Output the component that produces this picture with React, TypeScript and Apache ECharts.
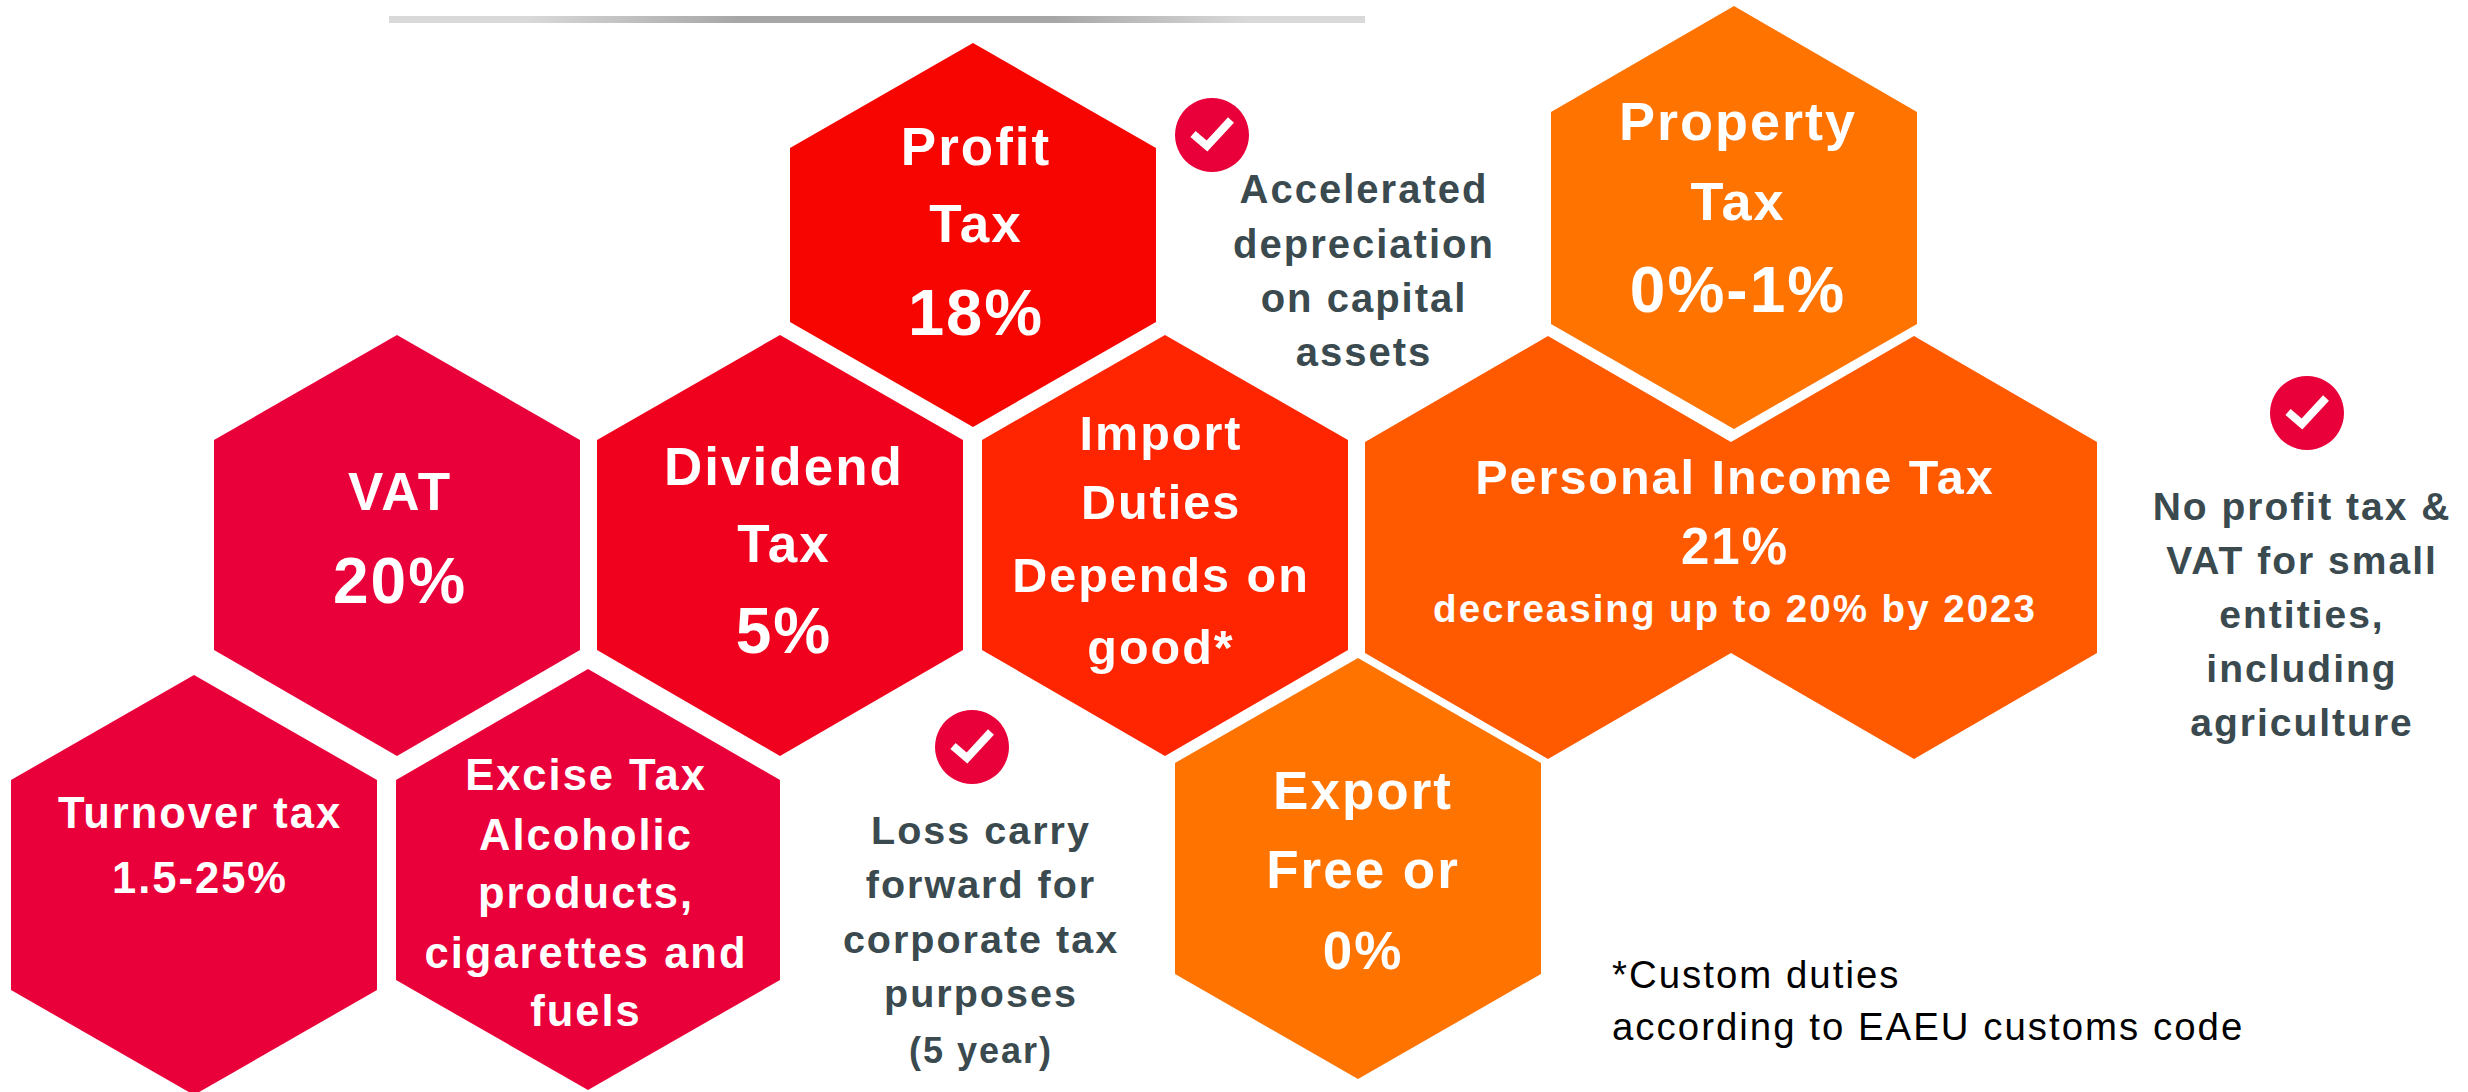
import React, { useEffect, useRef } from "react";
import * as echarts from "echarts";

// ---- content ----
const hexNames = ["Profit Tax", "Property Tax", "Personal Income Tax", "VAT", "Dividend Tax", "Import Duties", "Turnover tax", "Excise Tax", "Export"];
const profitLines = ["Profit", "Tax", "18%"];
const propertyLines = ["Property", "Tax", "0%-1%"];
const incomeLines = ["Personal Income Tax", "21%", "decreasing up to 20% by 2023"];
const vatLines = ["VAT", "20%"];
const dividendLines = ["Dividend", "Tax", "5%"];
const importLines = ["Import", "Duties", "Depends on", "good*"];
const turnoverLines = ["Turnover tax", "1.5-25%"];
const exciseLines = ["Excise Tax", "Alcoholic", "products,", "cigarettes and", "fuels"];
const exportLines = ["Export", "Free or", "0%"];
const depreciationNote = ["Accelerated", "depreciation", "on capital", "assets"];
const smallEntityNote = ["No profit tax &", "VAT for small", "entities,", "including", "agriculture"];
const lossNote = ["Loss carry", "forward for", "corporate tax", "purposes", "(5 year)"];
const footnote = ["*Custom duties", "according to EAEU customs code"];

// ---- layout (pixels of the 2468x1092 canvas) ----
const RED = "#E9003A";
const ORANGE = "#FF7300";
const hexLayout: any[] = [
  { cx: 973, top: 43, s1: 148, s2: 322, bottom: 427, hw: 183, cols: 1, color: "#F70500" },
  { cx: 1734, top: 6, s1: 112, s2: 324, bottom: 429, hw: 183, cols: 1, color: ORANGE },
  { cx: 1731, top: 336, s1: 442, s2: 653, bottom: 759, hw: 183, cols: 2, color: "#FF5A00" },
  { cx: 397, top: 335, s1: 440, s2: 650, bottom: 756, hw: 183, cols: 1, color: RED },
  { cx: 780, top: 335, s1: 440, s2: 650, bottom: 756, hw: 183, cols: 1, color: "#F0021F" },
  { cx: 1165, top: 335, s1: 440, s2: 650, bottom: 756, hw: 183, cols: 1, color: "#FF2500" },
  { cx: 194, top: 675, s1: 780, s2: 990, bottom: 1095, hw: 183, cols: 1, color: RED },
  { cx: 588, top: 669, s1: 780, s2: 980, bottom: 1090, hw: 192, cols: 1, color: RED },
  { cx: 1358, top: 658, s1: 763, s2: 974, bottom: 1079, hw: 183, cols: 1, color: ORANGE },
];

const WHITE = "#ffffff";
const DARK = "#3A4A4F";
const textBlocks: any[] = [
  { lines: profitLines, x: 976, ys: [146, 223, 312], sizes: [53, 53, 65], fill: WHITE },
  { lines: propertyLines, x: 1738, ys: [121, 201, 290], sizes: [54, 54, 64], fill: WHITE },
  { lines: incomeLines, x: 1735, ys: [477, 546, 608], sizes: [48.5, 51, 38.5], fill: WHITE },
  { lines: vatLines, x: 400, ys: [491, 581], sizes: [53, 64], fill: WHITE },
  { lines: dividendLines, x: 784, ys: [466, 543, 631], sizes: [53, 53, 64], fill: WHITE },
  { lines: importLines, x: 1161, ys: [433, 502, 575, 647], sizes: [48.5, 48.5, 48.5, 48.5], fill: WHITE },
  { lines: turnoverLines, x: 200, ys: [813, 878], sizes: [43.5, 43.5], fill: WHITE },
  { lines: exciseLines, x: 586, ys: [775, 835, 893, 953, 1011], sizes: [43.5, 43.5, 43.5, 43.5, 43.5], fill: WHITE },
  { lines: exportLines, x: 1363, ys: [790, 869, 950], sizes: [53, 53, 53], fill: WHITE },
  { lines: depreciationNote, x: 1364, ys: [189, 244, 298, 352], sizes: [40, 40, 40, 40], fill: DARK },
  { lines: smallEntityNote, x: 2302, ys: [506, 560, 614, 668, 722], sizes: [39, 39, 39, 39, 39], fill: DARK },
  { lines: lossNote, x: 981, ys: [830, 884, 939, 993, 1050], sizes: [39.5, 39.5, 39.5, 39.5, 36], fill: DARK },
];
const checks = [
  { x: 1212, y: 135 },
  { x: 2307, y: 413 },
  { x: 972, y: 747 },
];

const FONT = '"Liberation Sans", Arial, sans-serif';

function hexPoints(api: any, h: any) {
  const c = (x: number, y: number) => api.coord([x, y]);
  const left = h.cx - h.hw * h.cols;
  const pts: number[][] = [c(left, h.s1)];
  for (let i = 0; i < h.cols; i++) {
    const peak = left + h.hw * (2 * i + 1);
    const next = left + h.hw * (2 * i + 2);
    pts.push(c(peak, h.top), c(next, h.s1));
  }
  const right = left + h.hw * 2 * h.cols;
  pts.push(c(right, h.s2));
  for (let i = h.cols - 1; i >= 0; i--) {
    const peak = left + h.hw * (2 * i + 1);
    const prev = left + h.hw * 2 * i;
    pts.push(c(peak, h.bottom), c(prev, h.s2));
  }
  return pts;
}

export default function App() {
  const ref = useRef<HTMLDivElement>(null);
  useEffect(() => {
    if (!ref.current) return;
    const chart = echarts.init(ref.current, undefined, { renderer: "svg" });
    const textRows: any[] = [];
    textBlocks.forEach((b) =>
      b.lines.forEach((t: string, i: number) =>
        textRows.push({ name: t, value: [b.x, b.ys[i]], text: t, size: b.sizes[i], fill: b.fill })
      )
    );
    chart.setOption({
      animation: false,
      backgroundColor: "#ffffff",
      grid: { left: 0, right: 0, top: 0, bottom: 0 },
      xAxis: { type: "value", min: 0, max: 2468, show: false },
      yAxis: { type: "value", min: 0, max: 1092, inverse: true, show: false },
      graphic: [
        {
          type: "rect",
          shape: { x: 389, y: 16, width: 976, height: 7 },
          style: {
            fill: new echarts.graphic.LinearGradient(0, 0, 1, 0, [
              { offset: 0, color: "#d9d9d9" },
              { offset: 0.14, color: "#d9d9d9" },
              { offset: 0.36, color: "#a6a6a6" },
              { offset: 0.68, color: "#a6a6a6" },
              { offset: 0.88, color: "#d9d9d9" },
              { offset: 1, color: "#d9d9d9" },
            ]),
          },
        },
      ],
      series: [
        {
          type: "custom",
          name: "hexagons",
          clip: false,
          silent: true,
          data: hexNames.map((n, i) => ({ name: n, value: [hexLayout[i].cx, hexLayout[i].top] })),
          renderItem: (p: any, api: any) => {
            const h = hexLayout[p.dataIndex];
            return { type: "polygon", shape: { points: hexPoints(api, h) }, style: { fill: h.color } };
          },
        },
        {
          type: "custom",
          name: "checks",
          clip: false,
          silent: true,
          data: checks.map((c) => [c.x, c.y]),
          renderItem: (p: any, api: any) => {
            const [x, y] = api.coord([api.value(0), api.value(1)]);
            return {
              type: "group",
              x,
              y,
              children: [
                { type: "circle", shape: { cx: 0, cy: 0, r: 37 }, style: { fill: RED } },
                {
                  type: "polyline",
                  shape: { points: [[-19, -1], [-5, 11], [19, -15]] },
                  style: { stroke: "#fff", lineWidth: 8, fill: "none", lineJoin: "miter" },
                },
              ],
            };
          },
        },
        {
          type: "custom",
          name: "labels",
          clip: false,
          silent: true,
          data: textRows,
          renderItem: (p: any, api: any) => {
            const r = textRows[p.dataIndex];
            const [x, y] = api.coord(r.value);
            return {
              type: "text",
              x,
              y,
              style: {
                text: r.text,
                fill: r.fill,
                fontFamily: FONT,
                fontWeight: "bold",
                fontSize: r.size,
                align: "center",
                verticalAlign: "middle",
              },
            };
          },
        },
        {
          type: "custom",
          name: "footnote",
          clip: false,
          silent: true,
          data: footnote.map((t, i) => ({ name: t, value: [1612, i === 0 ? 975 : 1027] })),
          renderItem: (p: any, api: any) => {
            const [x, y] = api.coord([api.value(0), api.value(1)]);
            return {
              type: "text",
              x,
              y,
              scaleX: 1.01,
              style: {
                text: footnote[p.dataIndex],
                fill: "#000000",
                fontFamily: FONT,
                fontSize: 38,
                align: "left",
                verticalAlign: "middle",
              },
            };
          },
        },
      ],
    });
    return () => chart.dispose();
  }, []);
  return (
    <div
      ref={ref}
      style={{ position: "absolute", left: 0, top: 0, width: 2468, height: 1092, letterSpacing: "2px", overflow: "hidden" }}
    />
  );
}
